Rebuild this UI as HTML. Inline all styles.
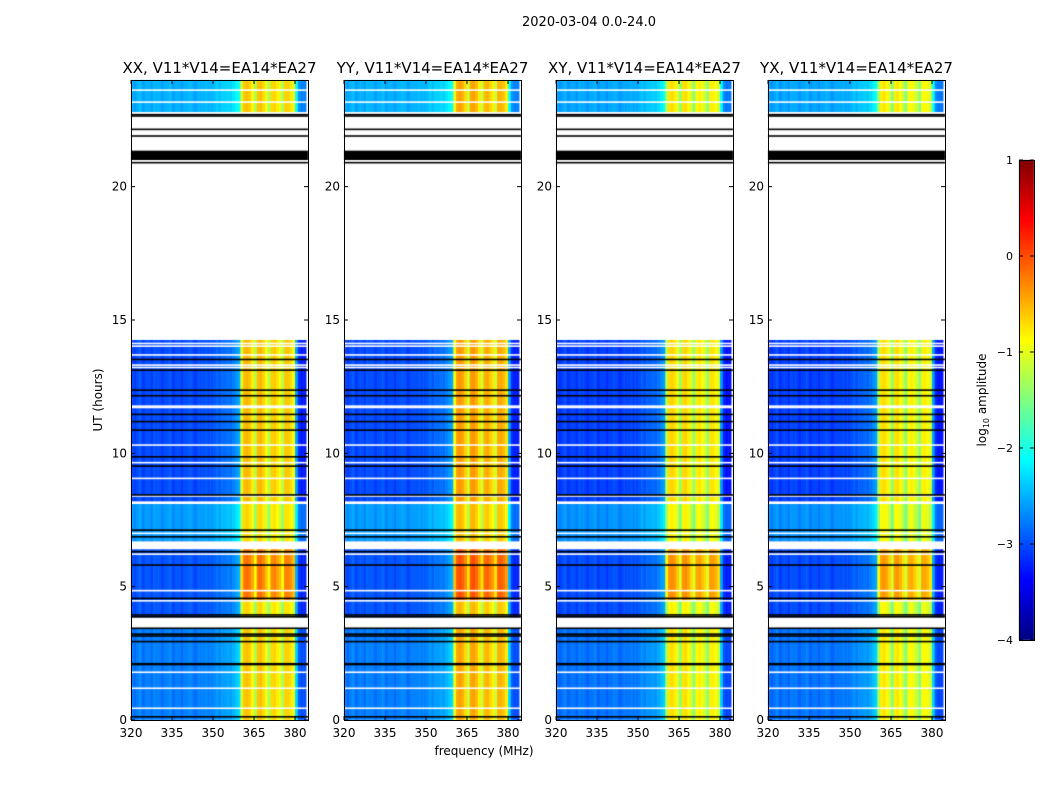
<!DOCTYPE html>
<html><head><meta charset="utf-8"><style>
html,body{margin:0;padding:0;background:#fff;}
#wrap{position:relative;width:1050px;height:800px;overflow:hidden;font-family:"DejaVu Sans","Liberation Sans",sans-serif;}
canvas,svg{position:absolute;left:0;top:0;}
</style></head><body>
<div id="wrap">
<canvas id="cv" width="1050" height="800"></canvas>
<svg id="sv" width="1050" height="800"></svg>
</div>
<script>
// ---- data ----
const panelTitles = ["XX, V11*V14=EA14*EA27","YY, V11*V14=EA14*EA27","XY, V11*V14=EA14*EA27","YX, V11*V14=EA14*EA27"];
const panelBandGain = [0, 0.15, -0.15, -0.2];
const panelBgGain = [0, 0.0, -0.05, -0.05];
// log10 amplitude per 1 MHz channel, 320..383
const freqProfile = [
-2.95,-3.05,-2.95,-2.9,-3.05,-2.95,-2.95,-3.05,-2.9,-2.95,
-2.95,-3.05,-2.95,-2.95,-2.9,-3.05,-2.95,-2.95,-3.05,-2.95,
-2.95,-2.9,-2.95,-3.05,-2.95,-2.95,-2.95,-2.9,-2.95,-2.95,
-2.9,-2.8,-2.9,-2.8,-2.8,-2.75,-2.8,-2.7,-2.6,-2.5,
-1.1,-0.6,-0.55,-0.65,-0.85,-1.3,-0.6,-0.55,-0.7,-0.95,
-1.3,-0.7,-0.65,-0.8,-0.95,-1.3,-0.65,-0.65,-0.75,-0.95,
-2.5,-3.1,-3.2,-3.2];
const bandStart = 360, bandEnd = 380;
// time blocks: [t0, t1, background offset, band offset] (hours)
const blockT0 = [0, 3.85, 4.5, 6.7, 8.2, 22.8];
const blockT1 = [3.45, 4.5, 6.4, 8.1, 14.25, 24];
const blockBg = [0.2, 0.0, 0.0, 0.35, -0.05, 0.45];
const blockBand = [0.0, -0.1, 0.4, -0.1, 0.05, 0.0];
const blackLines = [22.7,22.65,22.15,21.9,20.9,13.52,13.12,12.37,12.16,11.46,11.19,10.87,9.87,9.52,8.44,7.12,6.87,6.31,5.81,4.56,3.94,3.87,3.44,3.22,3.15,2.94,2.11,2.08,0.12];
const whiteLines = [23.62,23.17,14.12,14.02,13.69,13.31,13.22,11.77,11.72,10.31,9.65,9.06,8.4,7.0,6.5,6.22,4.85,4.47,1.79,1.19,0.44];
const thickBlack = [[21.0,21.35]];
const xTicks = [320,335,350,365,380];
const yTicks = [0,5,10,15,20];
const cbTicks = [1,0,-1,-2,-3,-4];

// ---- layout ----
const panelX = [131,344,556,768], PW=177, PT=80, PH=640;
const fMin=320, fMax=384.75, tMin=0, tMax=24, vMin=-4, vMax=1;
const cbX=1019, cbW=15, cbTop=160, cbBot=640;
function xs(i,f){return panelX[i]+(f-fMin)/(fMax-fMin)*PW;}
function ys(t){return PT+PH-(t-tMin)/(tMax-tMin)*PH;}
function clip(v){return Math.max(0,Math.min(1,v));}
function jet(v){const t=clip((v-vMin)/(vMax-vMin));
 const r=clip(1.5-Math.abs(4*t-3)),g=clip(1.5-Math.abs(4*t-2)),b=clip(1.5-Math.abs(4*t-1));
 return `rgb(${Math.round(r*255)},${Math.round(g*255)},${Math.round(b*255)})`;}

const ctx=document.getElementById('cv').getContext('2d');
ctx.fillStyle='#fff';ctx.fillRect(0,0,1050,800);
for(let p=0;p<4;p++){
 for(let b=0;b<blockT0.length;b++){
  const y0=ys(blockT1[b]), y1=ys(blockT0[b]);
  for(let c=0;c<freqProfile.length;c++){
   const f=fMin+c; const inBand=f>=bandStart&&f<bandEnd;
   const v=freqProfile[c]+(inBand?blockBand[b]+panelBandGain[p]:blockBg[b]+panelBgGain[p]);
   ctx.fillStyle=jet(v);
   const xa=xs(p,f), xb=Math.min(xs(p,f+1),panelX[p]+PW);
   ctx.fillRect(xa,y0,xb-xa+0.5,y1-y0);
  }
 }
 ctx.fillStyle='#fff';
 whiteLines.forEach(t=>ctx.fillRect(panelX[p],ys(t)-0.8,PW,1.6));
 ctx.fillStyle='#000';
 blackLines.forEach(t=>ctx.fillRect(panelX[p],ys(t)-0.8,PW,1.6));
 thickBlack.forEach(r=>ctx.fillRect(panelX[p],ys(r[1]),PW,ys(r[0])-ys(r[1])));
}
// colorbar
for(let y=cbTop;y<cbBot;y++){
 const v=vMax-(y-cbTop+0.5)/(cbBot-cbTop)*(vMax-vMin);
 ctx.fillStyle=jet(v);ctx.fillRect(cbX,y,cbW,1);
}

// ---- svg overlay ----
const NS='http://www.w3.org/2000/svg', sv=document.getElementById('sv');
function el(tag,attrs,txt){const e=document.createElementNS(NS,tag);for(const k in attrs)e.setAttribute(k,attrs[k]);if(txt!==undefined)e.textContent=txt;sv.appendChild(e);return e;}
let e=el('text',{x:589,y:26,'font-size':13,'text-anchor':'middle'},'2020-03-04 0.0-24.0');


for(let p=0;p<4;p++){
 const x0=panelX[p];
 e=el('rect',{x:x0+0.5,y:PT+0.5,width:PW,height:PH,fill:'none',stroke:'#000','stroke-width':1});
 
 
 e=el('text',{x:x0+PW/2,y:73,'font-size':15,'text-anchor':'middle'},panelTitles[p]);
 
 
 xTicks.forEach(f=>{const x=xs(p,f);
  e=el('path',{d:`M${x} ${PT+PH} v-4 M${x} ${PT} v4`,stroke:'#000','stroke-width':1});
  
  
  e=el('text',{x:x,y:PT+PH+17,'font-size':12,'text-anchor':'middle'},String(f));
  
  
 });
 yTicks.forEach(t=>{const y=ys(t);
  e=el('path',{d:`M${x0} ${y} h4 M${x0+PW} ${y} h-4`,stroke:'#000','stroke-width':1});
  
  
  e=el('text',{x:x0-4,y:y+4,'font-size':12,'text-anchor':'end'},String(t));
  
  
 });
}
e=el('text',{x:484,y:755,'font-size':12,'text-anchor':'middle'},'frequency (MHz)');


e=el('text',{x:0,y:0,'font-size':12,'text-anchor':'middle',transform:'translate(102,400) rotate(-90)'},'UT (hours)');


e=el('rect',{x:cbX+0.5,y:cbTop+0.5,width:cbW,height:cbBot-cbTop,fill:'none',stroke:'#000','stroke-width':1});


cbTicks.forEach(v=>{const y=cbTop+(vMax-v)/(vMax-vMin)*(cbBot-cbTop);
 e=el('path',{d:`M${cbX} ${y} h4 M${cbX+cbW} ${y} h-4`,stroke:'#000','stroke-width':1});
 
 
 e=el('text',{x:cbX-6,y:y+4,'font-size':11,'text-anchor':'end'},v<0?'\u2212'+Math.abs(v):String(v));
 
 
});
e=el('text',{x:0,y:0,'font-size':12,'text-anchor':'middle',transform:'translate(986,400) rotate(-90)'});


e.innerHTML='log<tspan font-size="8" dy="3">10</tspan><tspan dy="-3"> amplitude</tspan>';
</script>
</body></html>
